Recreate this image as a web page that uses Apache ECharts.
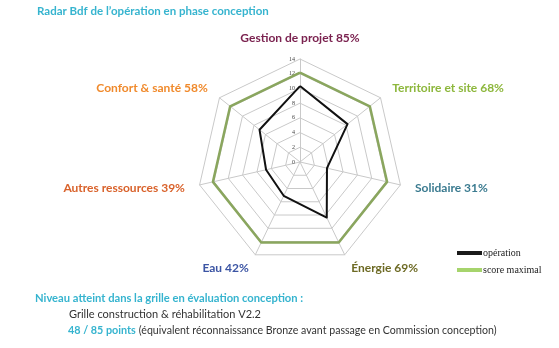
<!DOCTYPE html>
<html>
<head>
<meta charset="utf-8">
<style>
  html, body { margin: 0; padding: 0; background: #fff; }
  #chart { width: 559px; height: 348px; }
</style>
<script src="https://cdn.jsdelivr.net/npm/echarts@6/dist/echarts.min.js"></script>
</head>
<body>
<div id="chart"></div>
<script>
// Themes of the Bdf grid, in ECharts drawing order (top, then counter-clockwise)
const themes = ['Gestion de projet', 'Confort & santé', 'Autres ressources', 'Eau', 'Énergie', 'Solidaire', 'Territoire et site'];
const themeColors = ['#7b2350', '#f08a2c', '#d9622b', '#3c55a4', '#6d6a24', '#3b7b90', '#8db73c'];
const themePercent = [85, 58, 39, 42, 69, 31, 68];
// Points per theme: maximum available and obtained by the project
const scoreMax = [12.14, 12.14, 12.14, 12.14, 12.14, 12.14, 12.14];
const scoreOperation = [10.32, 7.04, 4.73, 5.10, 8.38, 3.76, 8.26];
// Radial scale
const axisMin = 0;
const axisMax = 14;
const axisStep = 2;

const seriesNames = ['opération', 'score maximal'];

const titleFont = 'Lato';
const cyan = '#36b4cf';

const indicator = themes.map((t, i) => {
  const ind = { name: t + ' ' + themePercent[i] + '%', min: axisMin, max: axisMax, color: themeColors[i] };
  if (i === 0) ind.axisLabel = { show: true };
  return ind;
});

const chart = echarts.init(document.getElementById('chart'), null, { renderer: 'canvas' });
chart.setOption({
  animation: false,
  title: [
    {
      text: 'Radar Bdf de l’opération en phase conception',
      left: 37, top: 5, padding: 0,
      textStyle: { fontFamily: titleFont, fontSize: 11.5, fontWeight: 'bold', color: cyan }
    },
    {
      text: 'Niveau atteint dans la grille en évaluation conception :',
      left: 35, top: 293, padding: 0,
      textStyle: { fontFamily: titleFont, fontSize: 11.2, fontWeight: 'bold', color: cyan }
    },
    {
      text: 'Grille construction & réhabilitation V2.2',
      left: 69, top: 309, padding: 0,
      textStyle: { fontFamily: titleFont, fontSize: 11, fontWeight: 'normal', color: '#333' }
    },
    {
      text: '{a|48 / 85 points}{b|(équivalent réconnaissance Bronze avant passage en Commission conception)}',
      left: 68, top: 325, padding: 0,
      textStyle: {
        rich: {
          a: { fontFamily: titleFont, fontSize: 10.8, fontWeight: 'bold', color: cyan, padding: [0, 3, 0, 0] },
          b: { fontFamily: titleFont, fontSize: 10.6, fontWeight: 'normal', color: '#333' }
        }
      }
    }
  ],
  legend: {
    orient: 'vertical',
    left: 452, top: 243,
    itemWidth: 25, itemHeight: 4, itemGap: 7,
    icon: 'rect',
    data: seriesNames,
    textStyle: { fontFamily: 'Liberation Serif', fontSize: 10, color: '#222', padding: [0, 0, 0, -4] }
  },
  radar: {
    center: [300, 162],
    radius: 103,
    startAngle: 90,
    splitNumber: (axisMax - axisMin) / axisStep,
    shape: 'polygon',
    indicator: indicator,
    axisName: { fontFamily: titleFont, fontSize: 12, fontWeight: 'bold' },
    nameGap: 15,
    axisLine: { lineStyle: { color: '#c9c9c9', width: 1 } },
    splitLine: { lineStyle: { color: '#c9c9c9', width: 1 } },
    splitArea: { show: false },
    axisTick: { show: false },
    axisLabel: {
      show: false,
      fontFamily: 'Liberation Serif', fontSize: 6, color: '#444', margin: 5,
      showMinLabel: true, showMaxLabel: true
    }
  },
  series: [{
    type: 'radar',
    symbol: 'none',
    data: [
      { name: seriesNames[1], value: scoreMax, lineStyle: { color: '#8aa65e', width: 2.5 }, itemStyle: { color: '#a6d46c' } },
      { name: seriesNames[0], value: scoreOperation, lineStyle: { color: '#111', width: 2 }, itemStyle: { color: '#1a1a1a' } }
    ]
  }]
});
</script>
</body>
</html>
